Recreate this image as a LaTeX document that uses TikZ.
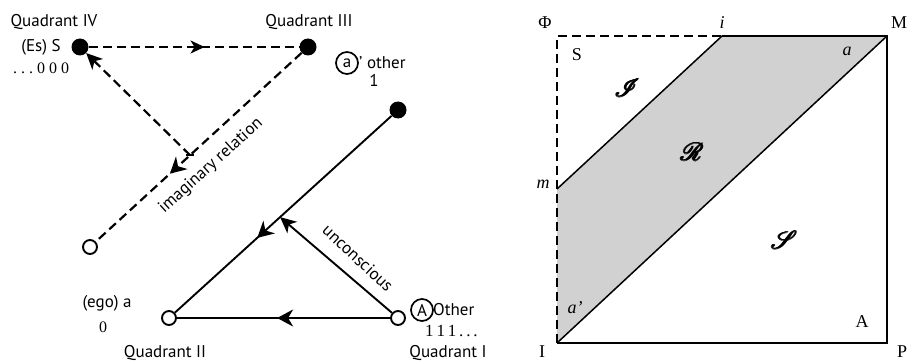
\documentclass[tikz,border=0pt]{standalone}
\usepackage{fontspec}
\setmainfont{Liberation Serif}
\newfontfamily\ptsans{PT Sans}
\usepackage{mathrsfs}
\usetikzlibrary{arrows.meta,decorations.markings,calc}
\newcommand{\heavyscr}[1]{\rlap{\hspace{0.7pt}#1}\rlap{\hspace{-0.7pt}#1}\rlap{\raisebox{0.7pt}{#1}}\rlap{\raisebox{-0.7pt}{#1}}#1}
\begin{document}
\begin{tikzpicture}[x=1pt,y=-1pt,
  sanslab/.style={font=\ptsans\fontsize{17}{19}\selectfont, inner sep=0pt},
  seriflab/.style={font=\fontsize{16}{18}\selectfont, inner sep=0pt},
  boxlab/.style={font=\fontsize{18}{20}\selectfont, inner sep=0pt},
  scrlab/.style={font=\fontsize{25}{27}\selectfont, inner sep=0pt},
  dotfull/.style={circle, fill=black, minimum size=17pt, inner sep=0pt},
  dotopen/.style={circle, draw=black, line width=1.9pt, fill=white, minimum size=14pt, inner sep=0pt},
  circlet/.style={circle, draw=black, line width=1.7pt, minimum size=22pt, inner sep=0pt, font=\ptsans\fontsize{17}{19}\selectfont},
  dline/.style={line width=2.2pt, dash pattern=on 9pt off 5pt},
  sline/.style={line width=1.9pt},
  headtip/.style={-{Stealth[length=16pt,width=15pt,inset=4.5pt]}},
  midarrow/.style={postaction={decorate}, decoration={markings, mark=at position #1 with {\arrow{Stealth[length=16pt,width=17pt,inset=5pt]}}}},
  smallmid/.style={postaction={decorate}, decoration={markings, mark=at position #1 with {\arrow{Stealth[length=14pt,width=13pt,inset=4pt]}}}},
  boxline/.style={line width=2pt},
  diagline/.style={line width=1.5pt},
  boxdash/.style={line width=1.8pt, dash pattern=on 9pt off 5pt},
]
\useasboundingbox (0,0) rectangle (911,361);

% ---------- left diagram ----------
\node[dotfull] (S4) at (80,47) {};
\node[dotfull] (S3) at (308,47) {};
\node[dotfull] (F1) at (398,110) {};
\node[dotopen] (Oi) at (90,247) {};
\node[dotopen] (Q2) at (169,318) {};
\node[dotopen] (Q1) at (398,318) {};
\coordinate (T) at ($(S3)!0.541!(Oi)$);
\coordinate (U) at ($(F1)!0.515!(Q2)$);

\draw[dline, smallmid=0.55] (S4) -- (S3);
\draw[dline, midarrow=0.64] (S3) -- (Oi);
\draw[dline, headtip] (T) -- (S4);
\draw[line width=1.8pt] ($(T)+(-4,0)$) -- ($(T)+(4,0)$);
\draw[sline, midarrow=0.62] (F1) -- (Q2);
\draw[sline, headtip] (Q1) -- (U);
\draw[sline, midarrow=0.53] (Q1) -- (Q2);

\node[sanslab] (lq4) at (54,22) {Quadrant IV};
\node[sanslab] (lq3) at (309,22) {Quadrant III};
\node[sanslab] (les) at (41,47) {(Es) S};
\node[seriflab] (l000) at (41,68) {.\ .\ .\ 0 0 0};
\node[circlet] (ca) at (347,63) {a};
\node[sanslab, anchor=west] (loth) at (359,63) {’ other};
\node[sanslab] (l1) at (374,80) {1};
\node[sanslab] (lego) at (107,303) {(ego) a};
\node[seriflab] (l0) at (103,327) {0};
\node[sanslab] (lq2) at (165,353) {Quadrant II};
\node[circlet] (cA) at (422,310) {A};
\node[sanslab, anchor=west] (lOth) at (433,310) {Other};
\node[seriflab, anchor=west, font=\fontsize{17}{19}\selectfont] (l111) at (425,331) {1\,1\,1\,.\,.\,.};
\node[sanslab] (lq1) at (448,353) {Quadrant I};
\node[sanslab, rotate=42] (limag) at (211,166) {imaginary relation};
\node[sanslab, rotate=-43] (lunc) at (358,258) {unconscious};

% ---------- right diagram ----------
\coordinate (Phi) at (557,36);
\coordinate (Mc) at (887,36);
\coordinate (Pc) at (887,343);
\coordinate (Ic) at (557,343);
\coordinate (ic) at (722,36);
\coordinate (mc) at (557,189);

\fill[black!18] (Ic) -- (mc) -- (ic) -- (Mc) -- cycle;
\draw[boxdash] (Ic) -- (Phi) -- (ic);
\draw[boxline] (ic) -- (Mc) -- (Pc) -- (Ic);
\draw[diagline] (mc) -- (ic);
\draw[diagline] (Ic) -- (Mc);

\node[boxlab] (lPhi) at (545,23) {Φ};
\node[boxlab] (li) at (722,23) {\textit{i}};
\node[boxlab] (lM) at (899,23) {M};
\node[boxlab] (lm) at (543,184) {\textit{m}};
\node[boxlab] (lI) at (542,352) {I};
\node[boxlab] (lP) at (902,352) {P};
\node[boxlab] (lS) at (577,55) {S};
\node[boxlab] (la) at (847,51) {\textit{a}};
\node[boxlab] (lap) at (575,308) {\textit{a’}};
\node[boxlab] (lA) at (862,322) {A};
\node[scrlab] (sI) at (627,88) {\heavyscr{$\mathscr{I}$}};
\node[scrlab] (sR) at (692,152) {\heavyscr{$\mathscr{R}$}};
\node[scrlab] (sS) at (784,240) {\heavyscr{$\mathscr{S}$}};
\end{tikzpicture}
\end{document}
